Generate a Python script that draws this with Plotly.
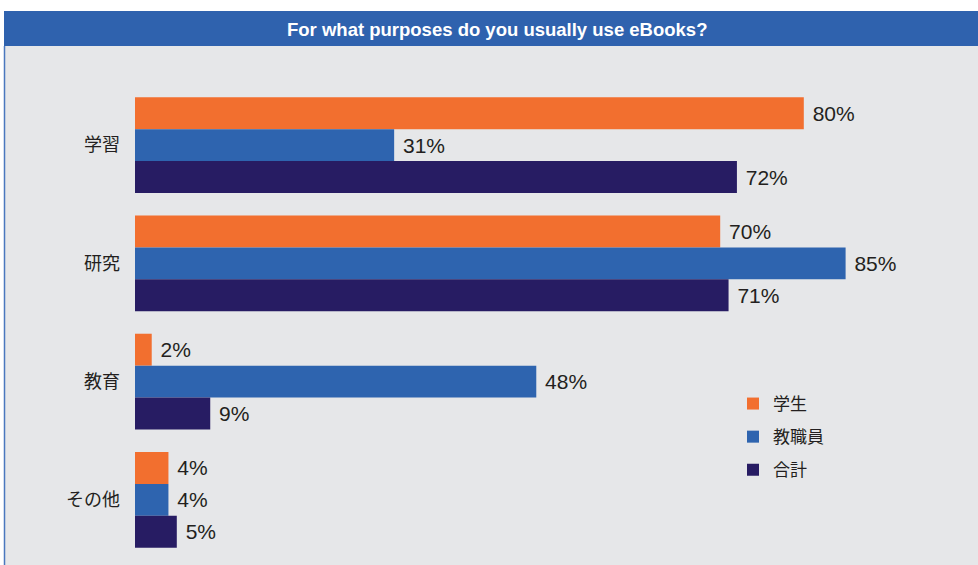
import plotly.graph_objects as go

categories = ["学習", "研究", "教育", "その他"]
series_names = ["学生", "教職員", "合計"]
students = [80, 70, 2, 4]
staff = [31, 85, 48, 4]
total = [72, 71, 9, 5]
colors = ["#F26F2F", "#2E64AF", "#271C63"]
title_text = "For what purposes do you usually use eBooks?"

W, H = 978, 565
ml, mr, mt, mb = 135, 7, 86, 6
pw, ph = W - ml - mr, H - mt - mb

def px_x(p):
    return (p - ml) / pw

def px_y(p):
    return (H - mb - p) / ph

fig = go.Figure()
for name, vals, col in zip(series_names, [students, staff, total], colors):
    fig.add_trace(go.Bar(
        y=categories, x=vals, name=name, orientation="h",
        marker=dict(color=col, line=dict(width=0)),
        text=[f"{v}%" for v in vals],
        texttemplate=" %{text}",
        textposition="outside",
        textfont=dict(family="Liberation Sans, Arial", size=21, color="#231F20"),
        cliponaxis=False,
        legendgroup=name,
    ))

shapes = [
    dict(type="rect", xref="paper", yref="paper", x0=px_x(5), x1=px_x(980), y0=px_y(567), y1=px_y(46),
         fillcolor="#E6E7E9", line=dict(width=0), layer="below"),
    dict(type="line", xref="paper", yref="paper", x0=px_x(4.5), x1=px_x(4.5), y0=px_y(567), y1=px_y(46),
         line=dict(color="#4A77BE", width=1.5), layer="below"),
    dict(type="rect", xref="paper", yref="paper", x0=px_x(4), x1=px_x(980), y0=px_y(46), y1=px_y(11),
         fillcolor="#2F62AE", line=dict(width=0), layer="below"),
]

fig.update_layout(
    width=W, height=H,
    margin=dict(l=ml, r=mr, t=mt, b=mb),
    paper_bgcolor="white",
    plot_bgcolor="rgba(0,0,0,0)",
    barmode="group",
    bargap=0.19,
    bargroupgap=0,
    shapes=shapes,
    annotations=[dict(text="<b>" + title_text + "</b>", xref="paper", yref="paper",
                      x=px_x(497), y=px_y(30), showarrow=False,
                      font=dict(family="Liberation Sans, Arial", size=18.5, color="white"),
                      xanchor="center", yanchor="middle")],
    xaxis=dict(range=[0, 100], visible=False, fixedrange=True),
    yaxis=dict(autorange="reversed", showgrid=False, zeroline=False, showline=False,
               ticks="", ticklabelstandoff=14,
               tickfont=dict(family="Noto Sans CJK JP", size=18, color="#231F20")),
    legend=dict(x=px_x(733), y=px_y(386), xanchor="left", yanchor="top",
                bgcolor="rgba(0,0,0,0)", tracegroupgap=8, itemwidth=30,
                font=dict(family="Noto Sans CJK JP", size=17, color="#231F20")),
    showlegend=True,
    font=dict(family="Liberation Sans, Arial"),
)

fig.write_html("out.html")
